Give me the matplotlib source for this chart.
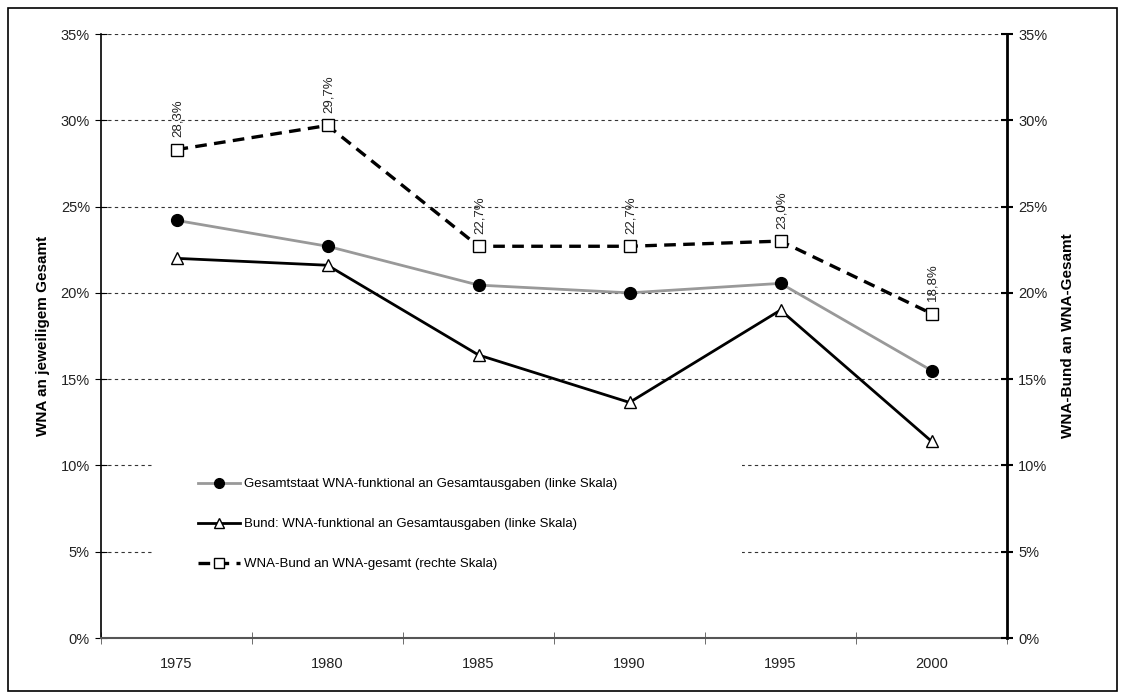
import matplotlib
matplotlib.use("Agg")
import matplotlib.pyplot as plt
from matplotlib.patches import Rectangle
from matplotlib.ticker import FixedLocator, PercentFormatter

years = ["1975", "1980", "1985", "1990", "1995", "2000"]
gesamtstaat = [24.2, 22.7, 20.45, 20.0, 20.55, 15.5]
bund = [22.0, 21.6, 16.4, 13.65, 19.0, 11.4]
wna_bund = [28.3, 29.7, 22.7, 22.7, 23.0, 18.8]
wna_labels = ["28,3%", "29,7%", "22,7%", "22,7%", "23,0%", "18,8%"]
y_ticks = [0, 5, 10, 15, 20, 25, 30, 35]

label_gesamt = "Gesamtstaat WNA-funktional an Gesamtausgaben (linke Skala)"
label_bund = "Bund: WNA-funktional an Gesamtausgaben (linke Skala)"
label_wna = "WNA-Bund an WNA-gesamt (rechte Skala)"

plt.rcParams['font.family'] = ['Liberation Sans', 'DejaVu Sans']

fig = plt.figure(figsize=(11.25, 6.99), dpi=100)
fig.patches.append(Rectangle((8/1125, 8/699), 1109/1125, 683/699, transform=fig.transFigure,
                             fill=False, edgecolor='black', linewidth=1.2, zorder=0))
ax = fig.add_axes([101/1125, 1-638/699, 906/1125, 604/699])
ax2 = ax.twinx()

x = list(range(len(years)))
ax.set_xlim(-0.5, len(years) - 0.5)
ax.set_ylim(0, 35)
ax2.set_ylim(0, 35)

# grid
for t in y_ticks[1:]:
    ax.axhline(t, color='#333333', linestyle=(0, (3, 3)), linewidth=0.8, zorder=1)

ax.plot(x, gesamtstaat, color='#999999', linewidth=2, marker='o', markersize=8.5,
        markerfacecolor='black', markeredgecolor='black', label=label_gesamt, zorder=3)
ax.plot(x, bund, color='black', linewidth=2, marker='^', markersize=9,
        markerfacecolor='white', markeredgecolor='black', markeredgewidth=1, label=label_bund, zorder=3)
l3, = ax2.plot(x, wna_bund, color='black', linewidth=2.4, linestyle=(0, (3.5, 2.2)), marker='s', markersize=8,
               markerfacecolor='white', markeredgecolor='black', markeredgewidth=1, label=label_wna, zorder=3)

for xi, v, lab in zip(x, wna_bund, wna_labels):
    ax2.annotate(lab, (xi, v), xytext=(1, 9), textcoords='offset points', rotation=90,
                 ha='center', va='bottom', fontsize=9.5, color='#222222')

# ticks
ax.set_xticks(x)
ax.set_xticklabels(years, fontsize=10.5, color='#222222')
ax.tick_params(axis='x', which='major', length=0, pad=14)
ax.xaxis.set_minor_locator(FixedLocator([i - 0.5 for i in range(len(years) + 1)]))
ax.tick_params(axis='x', which='minor', length=8, direction='inout', color='#555555')

ax.set_yticks(y_ticks)
ax.yaxis.set_major_formatter(PercentFormatter(decimals=0))
ax.tick_params(axis='y', length=8, direction='inout', labelsize=10.5, labelcolor='#222222', pad=4)
ax2.set_yticks(y_ticks)
ax2.yaxis.set_major_formatter(PercentFormatter(decimals=0))
ax2.tick_params(axis='y', length=8, direction='inout', labelsize=10.5, labelcolor='#222222', pad=4, width=1.5)

for s in ['top']:
    ax.spines[s].set_visible(False)
    ax2.spines[s].set_visible(False)
ax.spines['right'].set_visible(False)
ax2.spines['left'].set_visible(False)
ax2.spines['bottom'].set_visible(False)
ax.spines['bottom'].set_color('#555555')
ax.spines['bottom'].set_linewidth(1.5)
ax.spines['left'].set_linewidth(1.2)
ax2.spines['right'].set_linewidth(2)

ax.set_ylabel("WNA an jeweiligem Gesamt", fontsize=11, fontweight='bold', labelpad=8)
ax2.set_ylabel("WNA-Bund an WNA-Gesamt", fontsize=11, fontweight='bold', labelpad=10)

# legend background
ax2.add_patch(Rectangle(((152-101)/906, (638-605)/604), (742-152)/906, (605-455)/604,
                        transform=ax2.transAxes, facecolor='white', edgecolor='none', zorder=2))
h1, lb1 = ax.get_legend_handles_labels()
leg = ax2.legend(h1 + [l3], lb1 + [label_wna], loc='upper left',
                 bbox_to_anchor=((198-101)/906, (638-478)/604), frameon=False,
                 fontsize=9.5, labelspacing=2.1, handlelength=3.2, handletextpad=0.3,
                 borderpad=0, borderaxespad=0)
for h in leg.legend_handles:
    h.set_markersize(7)

fig.savefig("out.png", dpi=100)
